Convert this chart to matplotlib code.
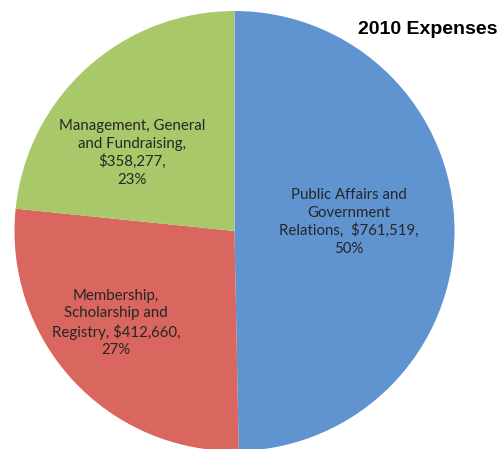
import matplotlib.pyplot as plt
from matplotlib.patches import Rectangle

W, H = 502, 449

categories = ["Public Affairs and\nGovernment\nRelations,  $761,519,\n50%",
              "Membership,\nScholarship and\nRegistry, $412,660,\n27%",
              "Management, General\nand Fundraising,\n$358,277,\n23%"]
amounts = [761519, 412660, 358277]
colors = ["#5F94D0", "#D9665F", "#A9C86A"]
title = "2010 Expenses"

# label centres in pixel coords (top-left origin)
label_pos = [(349, 222), (116, 323), (132, 153)]

fig = plt.figure(figsize=(W / 100, H / 100), dpi=100)
ax = fig.add_axes([0, 0, 1, 1])

cx, cy, r = 234.5, H - 231, 220
ax.pie(amounts, colors=colors, startangle=90, counterclock=False,
       center=(cx, cy), radius=r, frame=True,
       wedgeprops=dict(linewidth=0))
ax.set_xlim(0, W)
ax.set_ylim(0, H)
ax.set_aspect("equal")
ax.axis("off")

for lab, (x, y) in zip(categories, label_pos):
    ax.text(x, H - y, lab, ha="center", va="center", fontsize=10.8,
            family="Lato", color="#262626", linespacing=1.3)

# white box behind title
ax.add_patch(Rectangle((352, H - 45), 150, 45, facecolor="white",
                       edgecolor="none", zorder=5))
ax.text(428, H - 29, title, ha="center", va="center", fontsize=14,
        fontweight="bold", family="Liberation Sans", color="black", zorder=6)

fig.savefig("out.png", dpi=100)
